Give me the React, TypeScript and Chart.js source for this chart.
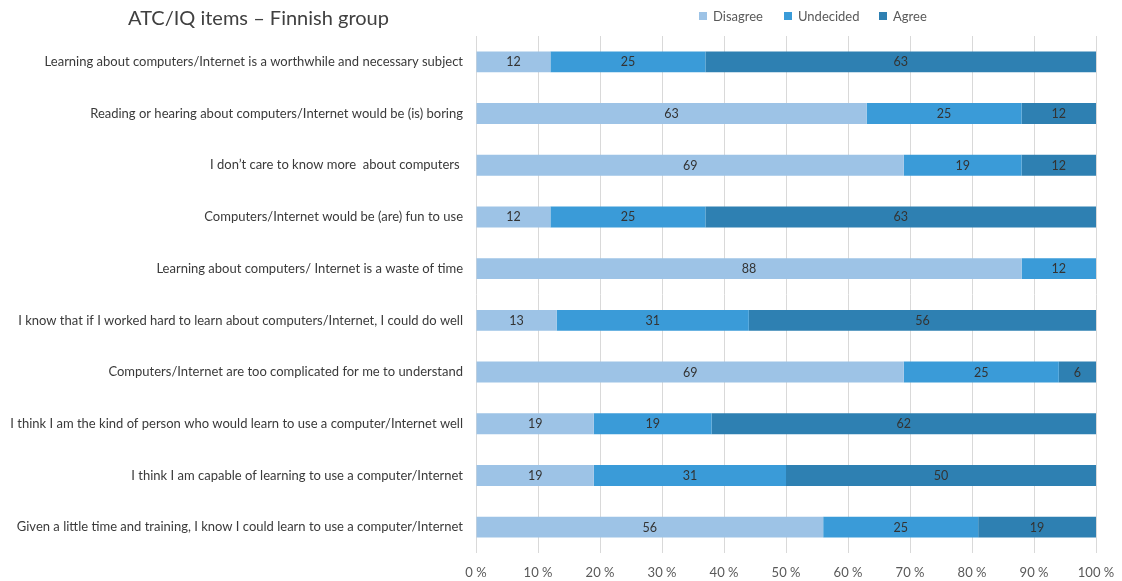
import React, { useEffect, useRef } from "react";
import { Chart, registerables } from "chart.js";

Chart.register(...registerables);

const title = "ATC/IQ items – Finnish group";

const categories = [
  "Learning about computers/Internet is a worthwhile and necessary subject",
  "Reading or hearing about computers/Internet would be (is) boring",
  "I don’t care to know more  about computers ",
  "Computers/Internet would be (are) fun to use",
  "Learning about computers/ Internet is a waste of time",
  "I know that if I worked hard to learn about computers/Internet, I could do well",
  "Computers/Internet are too complicated for me to understand",
  "I think I am the kind of person who would learn to use a computer/Internet well",
  "I think I am capable of learning to use a computer/Internet",
  "Given a little time and training, I know I could learn to use a computer/Internet",
];

const seriesNames = ["Disagree", "Undecided", "Agree"];
const disagree = [12, 63, 69, 12, 88, 13, 69, 19, 19, 56];
const undecided = [25, 25, 19, 25, 12, 31, 25, 19, 31, 25];
const agree = [63, 12, 12, 63, 0, 56, 6, 62, 50, 19];
const seriesColors = ["#9dc3e6", "#3a9bd8", "#2e80b2"];
const xTicks = [0, 10, 20, 30, 40, 50, 60, 70, 80, 90, 100];
const legendLeft = [699, 784, 879];

const FONT = "Lato, 'Liberation Sans', sans-serif";

const valueLabels = {
  id: "valueLabels",
  afterDatasetsDraw(chart: any) {
    const ctx = chart.ctx;
    ctx.save();
    ctx.font = `12.5px ${FONT}`;
    ctx.fillStyle = "#333333";
    ctx.textAlign = "center";
    ctx.textBaseline = "middle";
    chart.data.datasets.forEach((ds: any, di: number) => {
      const meta = chart.getDatasetMeta(di);
      meta.data.forEach((el: any, i: number) => {
        const v = ds.data[i];
        if (!v) return;
        const p = el.getProps(["x", "y", "base"], true);
        ctx.fillText(String(v), (p.x + p.base) / 2, p.y + 0.5);
      });
    });
    ctx.restore();
  },
};

export default function App() {
  const ref = useRef<HTMLCanvasElement>(null);
  useEffect(() => {
    if (!ref.current) return;
    const data = [disagree, undecided, agree];
    const chart = new Chart(ref.current, {
      type: "bar",
      data: {
        labels: categories,
        datasets: seriesNames.map((name, k) => ({
          label: name,
          data: data[k],
          backgroundColor: seriesColors[k],
          borderWidth: 0,
          barPercentage: 0.405,
          categoryPercentage: 1,
        })),
      },
      options: {
        indexAxis: "y",
        animation: false,
        responsive: false,
        layout: { padding: { top: 36, right: 26, left: 0, bottom: 0 } },
        plugins: {
          legend: { display: false },
          title: { display: false },
          tooltip: { enabled: false },
        },
        scales: {
          x: {
            stacked: true,
            min: 0,
            max: 100,
            afterBuildTicks: (scale: any) => {
              scale.ticks = xTicks.map((v) => ({ value: v }));
            },
            afterFit: (scale: any) => {
              scale.height = 28;
              scale.paddingLeft = 0;
              scale.paddingRight = 0;
            },
            ticks: {
              padding: 12,
              color: "#595959",
              font: { family: FONT, size: 13 },
              callback: (v: any) => `${v} %`,
            },
            grid: { color: "#d9d9d9", lineWidth: 1, drawTicks: false },
            border: { display: false },
          },
          y: {
            stacked: true,
            afterFit: (scale: any) => {
              scale.width = 476;
            },
            ticks: {
              padding: 13,
              color: "#3a3a3a",
              font: { family: FONT, size: 13 },
              autoSkip: false,
            },
            grid: { display: false, drawTicks: false },
            border: { display: false },
          },
        },
      },
      plugins: [valueLabels],
    });
    return () => chart.destroy();
  }, []);

  return (
    <div style={{ position: "absolute", left: 0, top: 0, width: 1122, height: 581, background: "#fff" }}>
      <canvas ref={ref} width={1122} height={581} style={{ position: "absolute", left: 0, top: 0 }} />
      <div
        style={{
          position: "absolute",
          left: 128,
          top: 4,
          fontFamily: FONT,
          fontSize: 20,
          lineHeight: "26px",
          color: "#404040",
          whiteSpace: "nowrap",
        }}
      >
        {title}
      </div>
      {seriesNames.map((n, k) => (
        <div
          key={n}
          style={{
            position: "absolute",
            left: legendLeft[k],
            top: 6,
            display: "flex",
            alignItems: "center",
            fontFamily: FONT,
            fontSize: 13,
            lineHeight: "20px",
            color: "#595959",
            whiteSpace: "nowrap",
          }}
        >
          <span style={{ display: "inline-block", width: 8, height: 8, background: seriesColors[k], marginRight: 6 }} />
          <span>{n}</span>
        </div>
      ))}
    </div>
  );
}
